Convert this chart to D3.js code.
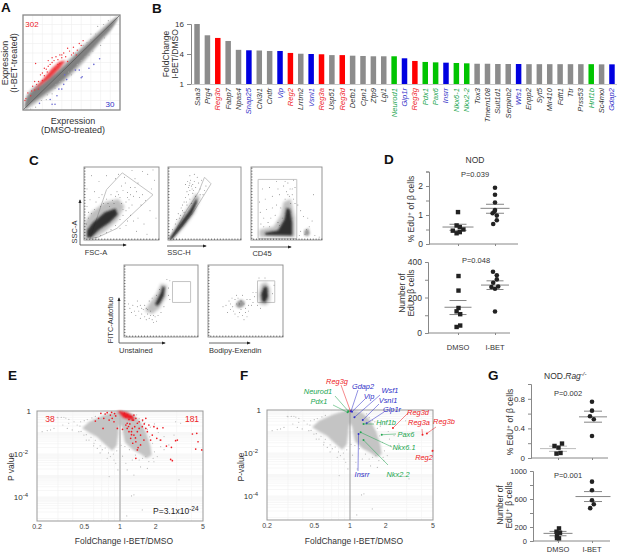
<!DOCTYPE html>
<html>
<head>
<meta charset="utf-8">
<script src="https://cdn.jsdelivr.net/npm/d3@7"></script>
<style>
  body { margin: 0; background: #fff; }
  svg { display: block; font-family: "Liberation Sans", Arial, sans-serif; fill: #333; }
  .axis path, .axis line { stroke: #888; }
  .axis text { fill: #333; font-family: "Liberation Sans", Arial, sans-serif; }
</style>
</head>
<body>
<svg id="fig" width="617" height="554"></svg>
<script>
  var RED = "#ee2024", BLUE = "#2f2fc8", GREEN = "#22a650";

  // --- A: expression scatter (arbitrary log units, 0-100 on both axes)
  var aBandX = [2, 4, 21, 38, 59, 79, 93, 98];
  var aBandUpper = [5, 13, 28, 42, 62, 81, 94, 98];
  var aBandLower = [1, 3, 16, 29, 50, 73, 89, 97];
  var aHaloUpper = [7, 16, 31, 45, 65, 84, 96, 99];
  var aHaloLower = [0, 1, 13, 26, 46, 70, 87, 96];
  var aRedCloud = [[10, 20], [22, 34], [30, 44], [38, 51], [44, 52], [38, 44], [28, 34], [18, 26]];
  var aRedPoints = [[12, 21], [8, 15], [3, 12], [5, 18], [10, 25], [14, 27], [16, 30], [18, 37], [20, 39], [22, 36], [25, 40], [28, 48], [13, 49], [26, 52], [30, 55], [34, 56], [38, 58], [40, 55], [44, 56], [48, 62], [36, 48], [42, 60], [46, 51], [50, 58], [52, 66], [55, 58], [56, 63], [60, 68], [33, 43], [38, 49], [24, 43], [20, 31], [22, 44], [30, 50], [16, 22], [12, 30], [46, 65], [58, 70], [2, 10], [9, 20], [62, 73], [52, 60], [26, 46], [32, 52], [36, 53], [40, 58]];
  var aBluePoints = [[79, 54], [54, 42], [58, 42], [61, 35], [60, 34], [68, 44], [73, 48], [45, 32], [42, 27], [37, 22], [40, 22], [35, 15], [30, 6], [33, 6], [17, 7], [28, 11], [43, 37]];
  var aGrayPoints = [[70, 74], [75, 80], [66, 71], [83, 90], [88, 94], [68, 58], [64, 56], [50, 37], [56, 48], [33, 23], [30, 17], [25, 16], [19, 10], [13, 3], [84, 76], [47, 40], [72, 62], [60, 52], [90, 86], [8, 1], [24, 11], [38, 30], [77, 88], [70, 80], [62, 68], [54, 60], [80, 68], [52, 43], [42, 31], [34, 27]];
  var aGridValues = d3.range(10, 100, 10);

  // --- B: top induced genes
  var bGenes = ["Saa3", "Prg4", "Reg3b", "Fabp7", "Npas4", "Snap25", "Chi3l1", "Cntfr", "Vip", "Reg2", "Lrrtm2", "Vsnl1", "Reg3a", "Usp51", "Reg3d", "Defb1", "Cpn1", "Zfp9", "Lgi1", "Neurod1", "Glp1r", "Reg3g", "Pdx1", "Pax6", "Insrr", "Nkx6-1", "Nkx2-2", "Tox3", "Tmem108", "Sult1d1", "Serpinb2", "Wfs1", "Enpp2", "Syt5", "Mir410", "Fdft1", "Ttr", "Prss53", "Hnf1b", "Sc4mol", "Gdap2"];
  var bFold = [16, 9.5, 8.4, 7.3, 4.85, 4.75, 4.7, 4.6, 4.6, 4.2, 4.05, 4.0, 3.95, 3.8, 3.8, 3.7, 3.65, 3.6, 3.6, 3.6, 3.28, 2.9, 2.77, 2.72, 2.68, 2.64, 2.6, 2.55, 2.55, 2.52, 2.52, 2.52, 2.5, 2.5, 2.5, 2.5, 2.5, 2.5, 2.5, 2.48, 2.48];
  var bGroup = ["n", "n", "r", "n", "n", "b", "n", "n", "b", "r", "n", "b", "r", "n", "r", "n", "n", "n", "n", "g", "b", "r", "g", "g", "b", "g", "g", "n", "n", "n", "n", "b", "n", "n", "n", "n", "n", "n", "g", "n", "b"];
  var bTicks = [1, 4, 16];

  // --- C: flow cytometry plots, units 0-100 in each plot
  var c1Gate = [[51, 92], [92, 62], [44, 16], [19, 4], [8, 2], [30, 69]];
  var c1Halo = [[1, 1], [1, 24], [10, 38], [28, 52], [46, 56], [54, 46], [44, 26], [28, 12], [12, 1]];
  var c1Core = [[4, 3], [4, 13], [12, 24], [28, 38], [42, 43], [45, 35], [34, 24], [20, 14], [10, 4]];
  var c1Points = [[55, 78], [62, 72], [58, 65], [66, 60], [70, 66], [52, 68], [60, 55], [48, 58], [74, 58], [64, 48], [56, 52], [68, 72], [78, 62], [50, 74], [44, 66], [42, 60], [36, 62], [30, 56], [72, 78], [85, 90], [78, 94], [64, 95], [90, 70], [94, 82], [20, 80], [14, 66], [8, 55], [4, 70], [10, 88], [30, 88], [42, 84], [88, 40], [96, 30], [80, 22], [72, 30], [62, 34], [66, 26], [58, 26], [6, 38], [16, 52], [24, 62], [52, 42], [76, 48], [82, 54], [60, 44], [4, 46], [92, 96], [54, 86], [46, 90], [70, 12], [84, 8], [48, 16], [56, 20], [36, 14], [20, 58], [68, 84], [50, 50], [46, 62], [38, 54], [32, 50], [26, 50], [22, 46], [14, 42], [10, 36], [6, 30], [3, 22], [52, 34], [48, 28], [42, 20], [30, 10], [22, 6], [16, 3], [56, 40], [40, 50], [34, 46], [58, 58], [62, 62]];
  var c2Gate = [[50, 86], [59, 77], [36, 40], [12, 10], [5, 2], [25, 40], [42, 66]];
  var c2Halo = [[1, 1], [14, 26], [28, 46], [38, 64], [44, 58], [37, 38], [24, 20], [7, 1]];
  var c2Core = [[1, 1], [18, 25], [30, 41], [39, 57], [40, 52], [33, 36], [21, 20], [5, 1]];
  var c2Points = [[30, 78], [32, 74], [28, 72], [31, 82], [27, 80], [34, 76], [26, 66], [24, 58], [28, 62], [22, 52], [18, 44], [20, 40], [14, 36], [12, 28], [10, 22], [42, 78], [38, 72], [44, 70], [36, 80], [46, 82], [40, 86], [50, 68], [48, 62], [34, 64], [38, 60], [44, 62], [24, 76], [30, 88], [36, 90], [30, 56], [26, 48], [52, 74], [6, 14], [16, 30], [20, 48], [32, 50], [29, 75], [33, 70], [30, 68], [35, 68], [25, 52], [22, 38], [17, 34]];
  var c3Gate = [[10, 2], [64.5, 2], [64.5, 83], [10, 83]];
  var c3Halo = [[12, 4], [12, 14], [32, 18], [42, 34], [46, 52], [56, 56], [62, 30], [62, 4]];
  var c3Core = [[20, 7], [20, 10], [38, 13], [47, 28], [50, 44], [55, 42], [58, 24], [58, 6]];
  var c3Extra = [[75, 7], [75, 13], [81, 16], [83, 9], [80, 5]];
  var c3Points = [[30, 60], [22, 42], [18, 30], [14, 22], [36, 48], [38, 70], [52, 78], [58, 70], [60, 82], [62, 72], [50, 66], [46, 74], [16, 70], [26, 72], [12, 52], [20, 56], [34, 34], [28, 30], [42, 44], [24, 24], [40, 62], [54, 60], [60, 56], [30, 44], [44, 30], [66, 48], [70, 40], [74, 32], [80, 30], [86, 26], [88, 62], [78, 14], [82, 18], [76, 8], [70, 12], [68, 6], [90, 6], [96, 4], [48, 80], [36, 80], [13, 38], [56, 50], [52, 62], [58, 62], [55, 70], [48, 56], [62, 50], [38, 24], [26, 18], [18, 18], [40, 20]];
  var c4Gate = [[65.5, 48], [90, 48], [90, 77], [65.5, 77]];
  var c4Halo = [[28, 36], [34, 46], [44, 60], [50, 74], [58, 72], [57, 56], [48, 40], [38, 32]];
  var c4Core = [[42, 46], [46, 54], [50, 62], [52, 70], [55, 69], [54, 58], [49, 48], [45, 43]];
  var c4Points = [[8, 40], [12, 44], [14, 36], [18, 42], [10, 34], [20, 36], [22, 44], [24, 32], [28, 28], [26, 38], [30, 40], [34, 26], [38, 24], [44, 22], [32, 32], [36, 30], [16, 30], [40, 20], [30, 24], [46, 30], [50, 34], [54, 42], [60, 58], [60, 68], [62, 52], [58, 80], [62, 78], [48, 66], [44, 58], [38, 54], [34, 50], [6, 46], [42, 28], [22, 26], [18, 50], [24, 40], [28, 44], [32, 38], [36, 36], [40, 30]];
  var c5Gate = [[66, 48], [89, 48], [89, 78], [66, 78]];
  var c5Halo = [[69, 46], [67, 58], [71, 74], [78, 76], [83, 67], [83, 50], [77, 44]];
  var c5Core = [[72, 50], [71, 60], [75, 70], [79, 69], [80, 56], [76, 48]];
  var c5Blob = [[37, 43], [39, 49], [44, 52], [49, 49], [48, 43], [42, 40]];
  var c5Points = [[24, 44], [28, 50], [30, 38], [26, 34], [36, 32], [40, 28], [46, 30], [50, 34], [54, 36], [58, 44], [56, 52], [60, 48], [62, 56], [64, 62], [60, 62], [46, 58], [38, 58], [32, 54], [42, 46], [48, 46], [38, 46], [30, 46], [44, 50], [54, 44], [52, 28], [48, 24], [66, 44], [70, 40], [86, 60], [88, 72], [68, 82], [76, 82], [42, 34], [34, 36], [20, 42], [33, 42], [36, 52], [52, 52], [50, 40], [44, 38], [40, 54]];
  var cBoxTicks = d3.range(3, 100, 4);

  // --- D: NOD EdU
  var dPctDmso = [[0, 1.10], [-0.14, 0.64], [0.18, 0.58], [0.54, 0.50], [-0.52, 0.46], [-0.14, 0.37], [0.18, 0.41]];
  var dPctIbet = [[0, 1.94], [0, 1.70], [0, 1.43], [0, 1.17], [-0.05, 1.12], [-0.24, 1.06], [0.18, 0.98], [0.18, 0.82], [-0.18, 0.69]];
  var dNumDmso = [[0.05, 321], [0.05, 239], [0.05, 141], [-0.14, 122], [0.22, 106], [0.22, 42], [-0.14, 34]];
  var dNumIbet = [[-0.2, 345], [0.18, 325], [0.18, 302], [-0.18, 283], [-0.36, 259], [0.32, 262], [0, 249], [0, 121]];
  var dPctStats = [{ mean: 0.585, hi: 0.68, lo: 0.47 }, { mean: 1.23, hi: 1.37, lo: 1.06 }];
  var dNumStats = [{ mean: 145, hi: 183, lo: 104 }, { mean: 270, hi: 294, lo: 245 }];

  // --- E / F: volcano, [fold change, -log10 P]
  var volcanoCloud = [[0.48, 0.8], [0.55, 0.5], [0.64, 0.34], [0.73, 0.2], [0.83, 0.1], [0.92, 0.03], [1, 0], [1.12, 0.03], [1.23, 0.1], [1.31, 0.2], [1.49, 0.5], [1.66, 1.0], [1.8, 1.6], [1.85, 2.05], [1.68, 2.2], [1.5, 2.0], [1.28, 1.8], [1.1, 1.45], [1.04, 0.75], [1.0, 0.6], [0.98, 0.75], [0.94, 1.6], [0.86, 1.85], [0.73, 1.5], [0.64, 1.2], [0.55, 1.0]];
  var volcanoGray = [[0.296, 0.29], [0.337, 0.29], [0.371, 0.39], [0.41, 0.5], [0.37, 0.57], [0.33, 0.65], [0.26, 0.88], [0.244, 0.91], [0.221, 0.96], [0.278, 0.81], [0.436, 0.65], [0.45, 0.96], [0.396, 0.88], [0.36, 0.81], [0.466, 0.5], [0.497, 1.12], [0.548, 1.35], [0.604, 1.5], [0.644, 1.74], [0.71, 1.8], [0.78, 2.2], [0.83, 2.12], [0.89, 2.28], [0.81, 3.05], [0.96, 2.74], [0.92, 2.43], [1.49, 2.6], [1.7, 2.67], [1.93, 2.36], [2.06, 2.12], [2.35, 1.8], [1.31, 2.98], [1.15, 2.74], [3.14, 3.2], [1.25, 3.95], [1.31, 3.9], [1.54, 4.6], [1.14, 4.88], [1.12, 2.43], [1.27, 2.28], [2.58, 1.58], [2.94, 0.5], [3.24, 0.57], [2.35, 1.19], [2.85, 1.12], [1.45, 2.28], [1.65, 2.12], [2.2, 1.66], [0.3, 0.31], [0.32, 0.3], [0.35, 0.33], [1.95, 0.6], [2.1, 1.0], [2.15, 1.35], [1.62, 0.55], [1.8, 0.75], [0.52, 1.35], [0.6, 1.62], [0.68, 1.95], [1.05, 2.1], [1.02, 1.6], [0.46, 0.7], [0.5, 0.45], [0.53, 0.4], [0.58, 0.32], [0.62, 0.25], [0.47, 0.95], [0.52, 1.1], [0.57, 1.22], [0.62, 1.36], [0.68, 1.62], [0.75, 1.72], [0.8, 1.95], [0.88, 2.0], [0.94, 1.85], [1.55, 0.48], [1.7, 0.85], [1.78, 1.2], [1.88, 1.5], [1.95, 1.9], [1.9, 2.2], [1.75, 2.35], [1.55, 2.2], [1.35, 2.05], [1.2, 1.8], [1.1, 1.65], [1.38, 0.18], [1.45, 0.35]];
  var eRedCloud = [[0.95, 0.03], [1, 0], [1.15, 0.08], [1.3, 0.25], [1.32, 0.42], [1.18, 0.38], [1.06, 0.3], [1.0, 0.12]];
  var eRedPoints = [[4.07, 1.07], [4.43, 1.04], [4.54, 1.43], [4.34, 1.77], [4.88, 1.81], [3.04, 1.35], [2.94, 1.38], [2.46, 1.63], [2.71, 1.69], [2.67, 2.25], [2.76, 2.31], [2.3, 0.78], [2.06, 0.81], [1.93, 0.73], [1.75, 0.65], [1.65, 0.81], [1.87, 1.12], [2.04, 1.27], [2.2, 1.35], [1.81, 1.35], [1.59, 1.35], [1.49, 1.58], [1.4, 1.81], [1.36, 2.2], [1.31, 1.12], [1.4, 0.96], [1.49, 1.12], [1.27, 0.81], [1.36, 1.43], [1.23, 1.27], [1.19, 0.96], [1.54, 0.73], [1.7, 0.96], [1.45, 0.5], [1.65, 0.34], [1.3, 0.42], [1.15, 0.57], [1.12, 0.26], [0.69, 0.11], [0.73, 0.34], [0.81, 0.42], [0.72, 0.81], [0.66, 0.34], [0.86, 0.34], [0.92, 0.23], [0.83, 0.19], [0.62, 0.47], [1.05, 0.85], [0.95, 0.81], [0.89, 0.5], [1.09, 0.11], [1.15, 0.19], [1.23, 0.26], [1.31, 0.19], [1.36, 0.34], [1.27, 0.42], [1.19, 0.39], [1.4, 0.57], [1.21, 0.6], [1.12, 0.65], [1.33, 0.73], [1.45, 0.81], [1.15, 0.81], [1.25, 0.96], [0.78, 0.08], [0.85, 0.06], [0.75, 0.14], [0.9, 0.12], [1.55, 0.42], [1.6, 0.6], [1.35, 1.25], [1.28, 1.5], [1.25, 1.1], [1.18, 0.72], [1.42, 1.7]];
  var fGenes = ["Reg3g", "Neurod1", "Pdx1", "Gdap2", "Vip", "Wsf1", "Vsnl1", "Glp1r", "Hnf1b", "Pax6", "Nkx6.1", "Nkx2.2", "Insrr", "Reg3d", "Reg3a", "Reg3b", "Reg2"];
  var fFold = [1.01, 0.97, 0.955, 1.02, 1.04, 1.09, 1.28, 1.38, 1.30, 1.85, 1.23, 1.30, 1.18, 2.30, 4.08, 4.44, 4.96];
  var fLogP = [0.06, 0.06, 0.11, 0.06, 0.08, 0.34, 0.47, 0.62, 0.65, 1.15, 1.04, 1.40, 1.12, 0.84, 1.15, 1.09, 1.89];
  var fColor = [RED, GREEN, GREEN, BLUE, BLUE, BLUE, BLUE, BLUE, GREEN, GREEN, GREEN, GREEN, BLUE, RED, RED, RED, RED];
  var volcanoXTicks = [0.2, 0.5, 1, 2, 5];
  var volcanoXMinor = [0.3, 0.4, 0.6, 0.7, 0.8, 0.9, 3, 4];
  var volcanoYTicks = [0, 2, 4];

  // --- G: NOD.Rag-/- EdU
  var gPctDmso = [[-0.35, 0.163], [0.05, 0.14], [0.4, 0.195], [-0.15, 0.059], [0.25, 0.068]];
  var gPctIbet = [[0, 0.76], [0, 0.64], [-0.2, 0.565], [0.18, 0.524], [0, 0.298]];
  var gNumDmso = [[0.1, 180], [-0.15, 133], [0.2, 118], [-0.1, 76], [0.1, 38], [-0.1, 42]];
  var gNumIbet = [[0, 848], [0, 725], [0, 583], [0.18, 526], [-0.18, 469]];
  var gPctStats = [{ mean: 0.127, hi: 0.16, lo: 0.09 }, { mean: 0.556, hi: 0.633, lo: 0.484 }];
  var gNumStats = [{ mean: 109, hi: 137, lo: 75 }, { mean: 635, hi: 706, lo: 564 }];

  var svg = d3.select("#fig");
  var defs = svg.append("defs");
  defs.append("filter").attr("id", "soft").attr("x", "-20%").attr("y", "-20%").attr("width", "140%").attr("height", "140%")
    .append("feGaussianBlur").attr("stdDeviation", 0.8);
  defs.append("filter").attr("id", "softer").attr("x", "-30%").attr("y", "-30%").attr("width", "160%").attr("height", "160%")
    .append("feGaussianBlur").attr("stdDeviation", 1.6);
  defs.append("marker").attr("id", "head").attr("viewBox", "0 0 10 10").attr("refX", 8).attr("refY", 5)
    .attr("markerWidth", 5).attr("markerHeight", 5).attr("orient", "auto")
    .append("path").attr("d", "M0,1L10,5L0,9Z").attr("fill", "#222");

  function label(x, y, text, opts) {
    opts = opts || {};
    var t = svg.append("text")
      .attr("x", x).attr("y", y)
      .attr("text-anchor", opts.anchor || "middle")
      .attr("font-size", opts.size || 8.5)
      .attr("fill", opts.color || "#333")
      .attr("font-weight", opts.weight || null)
      .attr("font-style", opts.italic ? "italic" : null)
      .text(text);
    if (opts.rotate) t.attr("transform", "rotate(-90," + x + "," + y + ")");
    return t;
  }

  function sup(t, text, size) {
    t.append("tspan").attr("dy", -3).attr("font-size", size || 6).text(text);
    t.append("tspan").attr("dy", 3).attr("font-size", size || 6).text("\u200a");
    return t;
  }

  function panelLetter(x, y, text) {
    label(x, y, text, { size: 13.5, weight: "bold", color: "#111", anchor: "start" });
  }

  function polygon(g, points, x, y, attrs) {
    var line = d3.line().x(function (d) { return x(d[0]); }).y(function (d) { return y(d[1]); }).curve(d3.curveLinearClosed);
    var path = g.append("path").attr("d", line(points));
    Object.keys(attrs).forEach(function (key) { path.attr(key, attrs[key]); });
    return path;
  }

  function dots(g, points, x, y, r, color) {
    g.append("g").attr("fill", color).selectAll("circle").data(points).join("circle")
      .attr("cx", function (d) { return x(d[0]); })
      .attr("cy", function (d) { return y(d[1]); })
      .attr("r", r);
  }

  // Panel A
  (function () {
    var x = d3.scaleLinear([0, 100], [23, 120]);
    var y = d3.scaleLinear([0, 100], [110, 15]);
    var g = svg.append("g");
    g.selectAll(".gx").data(aGridValues).join("line")
      .attr("x1", function (d) { return x(d); }).attr("x2", function (d) { return x(d); })
      .attr("y1", y(0)).attr("y2", y(100)).attr("stroke", "#eee").attr("stroke-width", 0.6);
    g.selectAll(".gy").data(aGridValues).join("line")
      .attr("y1", function (d) { return y(d); }).attr("y2", function (d) { return y(d); })
      .attr("x1", x(0)).attr("x2", x(100)).attr("stroke", "#eee").attr("stroke-width", 0.6);
    var halo = d3.area().x(function (d, i) { return x(aBandX[i]); })
      .y0(function (d, i) { return y(aHaloLower[i]); }).y1(function (d, i) { return y(aHaloUpper[i]); }).curve(d3.curveMonotoneX);
    var band = d3.area().x(function (d, i) { return x(aBandX[i]); })
      .y0(function (d, i) { return y(aBandLower[i]); }).y1(function (d, i) { return y(aBandUpper[i]); }).curve(d3.curveMonotoneX);
    g.append("path").attr("d", halo(aBandX)).attr("fill", "#c4c4c4").attr("filter", "url(#soft)");
    g.append("path").attr("d", band(aBandX)).attr("fill", "#808080").attr("filter", "url(#soft)");
    polygon(g, aRedCloud, x, y, { fill: "#ef1c24", filter: "url(#soft)", opacity: 0.85 });
    dots(g, aGrayPoints, x, y, 0.6, "#aaa");
    dots(g, aRedPoints, x, y, 0.7, "#ef3038");
    dots(g, aBluePoints, x, y, 0.8, "#6a6ad2");
    g.append("line").attr("x1", x(0)).attr("y1", y(0)).attr("x2", x(100)).attr("y2", y(100)).attr("stroke", "#555").attr("stroke-width", 0.7);
    g.append("rect").attr("x", x(0)).attr("y", y(100)).attr("width", x(100) - x(0)).attr("height", y(0) - y(100))
      .attr("fill", "none").attr("stroke", "#888").attr("stroke-width", 1.3);
    label(32, 27, "302", { color: RED, size: 8 });
    label(110, 107, "30", { color: BLUE, size: 8 });
    label(73, 124, "Expression", { size: 9 });
    label(73, 133, "(DMSO-treated)", { size: 9 });
    label(8, 63, "Expression", { size: 9, rotate: true });
    label(17, 63, "(I-BET-treated)", { size: 9, rotate: true });
  })();

  // Panel B
  (function () {
    var x = d3.scaleBand(bGenes, [192, 617]).paddingInner(0.47).paddingOuter(0.22);
    var y = d3.scaleLog([1, 16], [84, 24]).base(2);
    var colors = { n: "#8c8c8c", r: "#ff0000", b: "#0000e0", g: "#00c400" };
    var textColors = { n: "#333", r: RED, b: BLUE, g: GREEN };
    svg.append("g").selectAll("rect").data(bGenes).join("rect")
      .attr("x", function (d) { return x(d); })
      .attr("y", function (d, i) { return y(bFold[i]); })
      .attr("width", x.bandwidth())
      .attr("height", function (d, i) { return y(1) - y(bFold[i]); })
      .attr("fill", function (d, i) { return colors[bGroup[i]]; });
    var axis = svg.append("g").attr("class", "axis").attr("transform", "translate(191,0)")
      .call(d3.axisLeft(y).tickValues(bTicks).tickFormat(d3.format("d")).tickSize(4));
    axis.selectAll("text").attr("font-size", 8);
    axis.select("path").attr("stroke", "#999");
    svg.append("line").attr("x1", 191).attr("x2", 617).attr("y1", 84.5).attr("y2", 84.5).attr("stroke", "#bbb").attr("stroke-width", 0.8);
    bGenes.forEach(function (gene, i) {
      var cx = x(gene) + x.bandwidth() / 2 + 2.5;
      label(cx, 88, gene, { anchor: "end", size: 7.6, italic: true, color: textColors[bGroup[i]], rotate: true });
    });
    label(169, 54, "FoldChange", { size: 8.5, rotate: true });
    label(178, 54, "I-BET/DMSO", { size: 8.5, rotate: true });
  })();

  // Panel C
  function flowPlot(box, gate, halo, core, points, extras) {
    var x = d3.scaleLinear([0, 100], [box[0], box[1]]);
    var y = d3.scaleLinear([0, 100], [box[3], box[2]]);
    var g = svg.append("g");
    polygon(g, gate, x, y, { fill: "none", stroke: "#c4c4c4", "stroke-width": 1 });
    polygon(g, halo, x, y, { fill: "#666", opacity: 0.42, filter: "url(#softer)" });
    polygon(g, core, x, y, { fill: "#1a1a1a", opacity: 0.88, filter: "url(#soft)" });
    (extras || []).forEach(function (blob) {
      polygon(g, blob, x, y, { fill: "#555", opacity: 0.6, filter: "url(#soft)" });
    });
    dots(g, points, x, y, 0.45, "#444");
    g.append("rect").attr("x", box[0]).attr("y", box[2]).attr("width", box[1] - box[0]).attr("height", box[3] - box[2])
      .attr("fill", "none").attr("stroke", "#8a8a8a").attr("stroke-width", 0.9);
    g.append("g").attr("transform", "translate(0," + box[3] + ")").call(d3.axisTop(x).tickValues(cBoxTicks).tickSize(1.5).tickFormat(""))
      .call(function (s) { s.select("path").remove(); s.selectAll("line").attr("stroke", "#333").attr("stroke-width", 0.6); });
    g.append("g").attr("transform", "translate(" + box[0] + ",0)").call(d3.axisRight(y).tickValues(cBoxTicks).tickSize(1.5).tickFormat(""))
      .call(function (s) { s.select("path").remove(); s.selectAll("line").attr("stroke", "#333").attr("stroke-width", 0.6); });
  }

  function arrow(x1, y1, x2, y2) {
    svg.append("line").attr("x1", x1).attr("y1", y1).attr("x2", x2).attr("y2", y2)
      .attr("stroke", "#444").attr("stroke-width", 0.8).attr("marker-end", "url(#head)");
  }

  flowPlot([84, 159, 167, 240], c1Gate, c1Halo, c1Core, c1Points);
  flowPlot([168, 241, 167, 240], c2Gate, c2Halo, c2Core, c2Points);
  flowPlot([251, 322, 167, 240], c3Gate, c3Halo, c3Core, c3Points, [c3Extra]);
  flowPlot([124, 198, 265, 337], c4Gate, c4Halo, c4Core, c4Points);
  flowPlot([208, 283, 265, 337], c5Gate, c5Halo, c5Core, c5Points, [c5Blob]);

  arrow(80, 245, 80, 200);
  arrow(80, 245, 126, 245);
  arrow(167, 246, 206, 246);
  arrow(250, 247, 291, 247);
  arrow(119, 343, 119, 298);
  arrow(119, 343, 165, 343);
  arrow(209, 343, 250, 343);
  label(77, 232, "SSC-A", { size: 7.5, rotate: true });
  label(96, 255, "FSC-A", { size: 7.5 });
  label(179, 255, "SSC-H", { size: 7.5 });
  label(262, 256, "CD45", { size: 7.5 });
  label(113, 320, "FITC-Autofluo", { size: 7.5, rotate: true });
  label(119, 353, "Unstained", { size: 7.5, anchor: "start" });
  label(209, 353, "Bodipy-Exendin", { size: 7.5, anchor: "start" });

  // Dot plots for D and G
  function dotPlot(cfg) {
    var y = d3.scaleLinear([0, cfg.top], [cfg.y0, cfg.y1]);
    var x = d3.scaleLinear([0, 1], cfg.cats);
    var step = cfg.jitter;
    var axis = svg.append("g").attr("class", "axis").attr("transform", "translate(" + cfg.axisX + ",0)")
      .call(d3.axisLeft(y).tickValues(cfg.ticks).tickSize(3).tickFormat(function (d) {
        return cfg.labels.indexOf(d) >= 0 ? d : "";
      }));
    axis.selectAll("text").attr("font-size", cfg.fontSize || 8.5).attr("dx", cfg.tickDx || 0);
    var bottom = svg.append("g").attr("class", "axis").attr("transform", "translate(0," + cfg.y0 + ")")
      .call(d3.axisBottom(d3.scaleLinear([0, 1], [cfg.cats[0], cfg.cats[1]]).clamp(false)).tickValues([0, 1]).tickSize(2).tickFormat(""));
    bottom.select("path").attr("d", "M" + cfg.axisX + ",0H" + cfg.axisEnd);
    cfg.stats.forEach(function (s, i) {
      var cx = x(i);
      var m = cfg.meanHalf[i], e = cfg.semHalf[i];
      var shift = cfg.shift ? cfg.shift[i] : 0;
      [[s.hi, e], [s.lo, e], [s.mean, m]].forEach(function (row) {
        svg.append("line").attr("x1", cx + shift - row[1]).attr("x2", cx + shift + row[1])
          .attr("y1", y(row[0])).attr("y2", y(row[0]))
          .attr("stroke", cfg.lineColor && i === 0 ? cfg.lineColor : "#666").attr("stroke-width", 0.8);
      });
    });
    svg.append("g").attr("fill", "#222").selectAll("rect").data(cfg.left).join("rect")
      .attr("x", function (d) { return x(0) + d[0] * step - 2.2; })
      .attr("y", function (d) { return y(d[1]) - 2.2; })
      .attr("width", 4.4).attr("height", 4.4);
    svg.append("g").attr("fill", "#222").selectAll("circle").data(cfg.right).join("circle")
      .attr("cx", function (d) { return x(1) + d[0] * step; })
      .attr("cy", function (d) { return y(d[1]); })
      .attr("r", 2.3);
  }

  dotPlot({
    axisX: 429, axisEnd: 518, y0: 244, y1: 171.5, top: 2.5, cats: [458, 495], jitter: 10,
    ticks: [0, 0.5, 1, 1.5, 2, 2.5], labels: [0, 1, 2],
    left: dPctDmso, right: dPctIbet, stats: dPctStats,
    meanHalf: [15.5, 14.5], semHalf: [8.5, 9]
  });
  dotPlot({
    axisX: 428, axisEnd: 510, y0: 333, y1: 262, top: 400, cats: [458, 495], jitter: 10,
    ticks: [0, 100, 200, 300, 400], labels: [0, 200, 400],
    left: dNumDmso, right: dNumIbet, stats: dNumStats,
    meanHalf: [13.5, 14], semHalf: [8.5, 8.5]
  });
  label(475, 163, "NOD", { size: 8.5 });
  label(475, 177, "P=0.039", { size: 7.5 });
  label(476, 263, "P=0.048", { size: 7.5 });
  label(458, 350, "DMSO", { size: 7.5 });
  label(495, 350, "I-BET", { size: 7.5 });
  var dY = label(414, 209, "% EdU", { size: 8.5, rotate: true });
  sup(dY, "+", 6).append("tspan").attr("font-size", 8.5).text(" of \u03b2 cells");
  label(405, 293, "Number of", { size: 8.5, rotate: true });
  var dY2 = label(414, 293, "EdU", { size: 8.5, rotate: true });
  sup(dY2, "+", 6).append("tspan").attr("font-size", 8.5).text(" \u03b2 cells");

  dotPlot({
    axisX: 531, axisEnd: 608, y0: 458, y1: 384, top: 1, cats: [558, 592], jitter: 10,
    ticks: [0, 0.2, 0.4, 0.6, 0.8, 1], labels: [0, 0.4, 0.8], fontSize: 8,
    left: gPctDmso, right: gPctIbet, stats: gPctStats,
    meanHalf: [18, 14], semHalf: [9, 9], lineColor: "#aaa", shift: [0, 1]
  });
  dotPlot({
    axisX: 533, axisEnd: 610, y0: 541, y1: 471, top: 1000, cats: [558, 592], jitter: 10,
    ticks: [0, 200, 400, 600, 800, 1000], labels: [0, 200, 600, 1000], fontSize: 7.5,
    left: gNumDmso, right: gNumIbet, stats: gNumStats,
    meanHalf: [14.5, 17.5], semHalf: [8.5, 9], shift: [0, 1]
  });
  var gTitle = label(544, 379, "NOD.", { size: 8.5, anchor: "start" });
  gTitle.append("tspan").attr("font-style", "italic").text("Rag");
  gTitle.append("tspan").attr("dy", -3).attr("font-size", 6).attr("font-style", "italic").text("-/-");
  label(568, 396, "P=0.002", { size: 7.5 });
  label(568, 478, "P=0.001", { size: 7.5 });
  label(558, 552, "DMSO", { size: 7.5 });
  label(592, 552, "I-BET", { size: 7.5 });
  var gY = label(513, 422, "% EdU", { size: 8.5, rotate: true });
  sup(gY, "+", 6).append("tspan").attr("font-size", 8.5).text(" of \u03b2 cells");
  label(503, 505, "Number of", { size: 8.5, rotate: true });
  var gY2 = label(512, 505, "EdU", { size: 8.5, rotate: true });
  sup(gY2, "+", 6).append("tspan").attr("font-size", 8.5).text(" \u03b2 cells");

  // Volcano plots for E and F
  function volcano(left, right, top, bottom, yTitle, midStroke, midWidth) {
    var x = d3.scaleLog([0.2, 5], [left, right]);
    var y = d3.scaleLinear([0, (bottom - top) / 21.5], [top, bottom]);
    var g = svg.append("g");
    var minor = [];
    d3.range(0, 6).forEach(function (decade) {
      d3.range(1, 10).forEach(function (k) {
        var v = decade - Math.log10(k);
        if (v > 0 && v < y.domain()[1]) minor.push(v);
      });
    });
    g.selectAll(".hl").data(minor).join("line")
      .attr("x1", left).attr("x2", right)
      .attr("y1", function (d) { return y(d); }).attr("y2", function (d) { return y(d); })
      .attr("stroke", "#f3f3f3").attr("stroke-width", 0.7);
    g.selectAll(".vl").data(volcanoXMinor).join("line")
      .attr("y1", top).attr("y2", bottom)
      .attr("x1", function (d) { return x(d); }).attr("x2", function (d) { return x(d); })
      .attr("stroke", "#f3f3f3").attr("stroke-width", 0.7);
    polygon(g, volcanoCloud, x, y, { fill: "#c4c4c4", filter: "url(#soft)" });
    dots(g, volcanoGray, x, y, 0.6, "#b8b8b8");
    g.append("line").attr("x1", x(1)).attr("x2", x(1)).attr("y1", top).attr("y2", bottom).attr("stroke", midStroke).attr("stroke-width", midWidth);
    g.append("rect").attr("x", left).attr("y", top).attr("width", right - left).attr("height", bottom - top)
      .attr("fill", "none").attr("stroke", "#999").attr("stroke-width", 1);
    volcanoXTicks.forEach(function (v) {
      label(x(v), bottom + 7.5, v, { size: 7, color: "#444" });
    });
    volcanoYTicks.forEach(function (v) {
      if (v === 0) {
        label(left - 6, y(v) + 3, "1", { size: 8, anchor: "end" });
        return;
      }
      var t = label(left - 9, y(v) + 3, "10", { size: 8, anchor: "end" });
      t.append("tspan").attr("dy", -3).attr("font-size", 6).text("-" + v);
    });
    label((left + right) / 2 + 4, 544, "FoldChange I-BET/DMSO", { size: 8.5 });
    label(left - 23, 467, yTitle, { size: 8.5, rotate: true });
    return { x: x, y: y, g: g };
  }

  (function () {
    var v = volcano(37, 203, 411, 521, "P value", "#bdbdbd", 1.6);
    polygon(v.g, eRedCloud, v.x, v.y, { fill: "#ee1c25", filter: "url(#soft)" });
    dots(v.g, eRedPoints, v.x, v.y, 0.85, "#ee1c25");
    label(50, 422, "38", { size: 8.5, color: RED });
    label(192, 422, "181", { size: 8.5, color: RED });
    var p = label(153, 514, "P=3.1x10", { size: 8.5, anchor: "start", color: "#222" });
    p.append("tspan").attr("dy", -3).attr("font-size", 6.5).text("-24");
  })();

  (function () {
    // label spot and leader start for each gene, same order as fGenes
    var labelAt = [[337, 383.5], [318, 394], [319, 404], [363, 388.5], [369, 398.5], [390, 393], [388, 403], [392, 412], [386, 425], [406, 436.5], [404, 450], [398, 477], [362, 477], [418, 414.5], [419, 425], [444, 424], [424, 459.5]];
    var leaderFrom = [[341, 385], [335, 396], [333, 405], [358, 390], [365, 399], [380, 395], [379, 404], [384, 412], [374, 424], [396, 434], [392, 447], [388, 465], [358, 471], [408, 413], [422, 429], [436, 427], [432, 452]];
    var v = volcano(267, 433, 410, 520, "P-value", "#999", 1);
    fGenes.forEach(function (gene, i) {
      var px = v.x(fFold[i]), py = v.y(fLogP[i]);
      svg.append("line").attr("x1", leaderFrom[i][0]).attr("y1", leaderFrom[i][1]).attr("x2", px).attr("y2", py)
        .attr("stroke", fColor[i]).attr("stroke-width", 0.7).attr("opacity", 0.75);
      svg.append("circle").attr("cx", px).attr("cy", py).attr("r", 1).attr("fill", fColor[i]);
      label(labelAt[i][0], labelAt[i][1], gene, { size: 7.4, italic: true, color: fColor[i] });
    });
  })();

  panelLetter(1, 12, "A");
  panelLetter(152, 13, "B");
  panelLetter(29, 165, "C");
  panelLetter(384, 164, "D");
  panelLetter(8, 380, "E");
  panelLetter(240, 380, "F");
  panelLetter(488, 380, "G");
</script>
</body>
</html>
